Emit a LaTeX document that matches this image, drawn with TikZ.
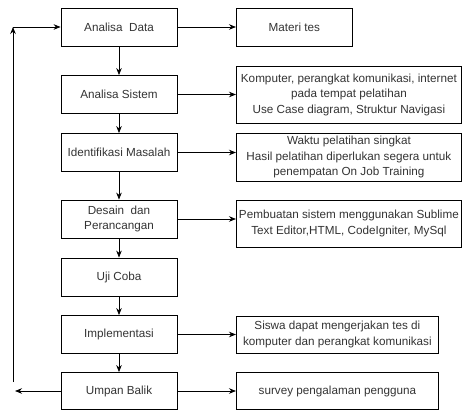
\documentclass[tikz,border=0pt]{standalone}
\usepackage{fontspec}
\setmainfont{Liberation Sans}
\usetikzlibrary{positioning,arrows.meta}
\begin{document}
\begin{tikzpicture}[x=1pt, y=-1pt, >={Stealth[length=7pt,width=5.5pt]},
    font=\fontsize{11.7}{15.5}\selectfont,
    stepbox/.style={draw, rectangle, line width=0.8pt, text=black!80, minimum width=116pt, minimum height=38pt, align=center, inner sep=2pt},
    notebox/.style={draw, rectangle, line width=0.8pt, text=black!80, anchor=west, align=center, inner sep=2pt},
    flow/.style={->, line width=0.8pt}]
        \useasboundingbox (0,0) rectangle (463,412);
        % Nodes
        \node[stepbox] (ad) at (119,27) {Analisa~ Data};
        \node[stepbox] (as) at (119,94.5) {Analisa Sistem};
        \node[stepbox] (im) at (119,152.5) {Identifikasi Masalah};
        \node[stepbox] (dp) at (119,219) {Desain~ dan\\Perancangan};
        \node[stepbox] (uc) at (119,277) {Uji Coba};
        \node[stepbox] (ip) at (119,334.5) {Implementasi};
        \node[stepbox, minimum height=37pt] (ub) at (119,391) {Umpan Balik};

        \node[notebox, minimum width=116pt, minimum height=38pt] (mt) at (236,27) {Materi tes};
        \node[notebox, minimum width=225pt, minimum height=57pt] (kp) at (236,94.5) {Komputer, perangkat komunikasi, internet\\pada tempat pelatihan\\Use Case diagram, Struktur Navigasi};
        \node[notebox, minimum width=225pt, minimum height=48pt] (wp) at (236,157) {Waktu pelatihan singkat\\Hasil pelatihan diperlukan segera untuk\\penempatan On Job Training};
        \node[notebox, minimum width=225pt, minimum height=47pt] (ps) at (236,223.5) {Pembuatan sistem menggunakan Sublime\\Text Editor,HTML, CodeIgniter, MySql};
        \node[notebox, minimum width=202pt, minimum height=37pt] (sd) at (236,334.5) {Siswa dapat mengerjakan tes di\\komputer dan perangkat komunikasi};
        \node[notebox, minimum width=202pt, minimum height=37pt] (sp) at (236,391) {survey pengalaman pengguna};

        \coordinate (fbend) at (15,391);
        \coordinate (fbbot) at (13,382);
        \coordinate (fbtop) at (13,27);

        % Arrows
        \draw[flow] (ad) -- (as);
        \draw[flow] (as) -- (im);
        \draw[flow] (im) -- (dp);
        \draw[flow] (dp) -- (uc);
        \draw[flow] (uc) -- (ip);
        \draw[flow] (ip) -- (ub);

        \draw[flow] (ad) -- (mt);
        \draw[flow] (as) -- (kp);
        \draw[flow] (im.east) -- (im.east -| wp.west);
        \draw[flow] (dp.east) -- (dp.east -| ps.west);
        \draw[flow] (ip) -- (sd);
        \draw[flow] (ub) -- (sp);

        \draw[flow] (ub.west) -- (fbend);
        \draw[flow] (fbbot) -- (fbtop);
        \draw[flow] (fbtop) -- (ad.west);
    \end{tikzpicture}
\end{document}
